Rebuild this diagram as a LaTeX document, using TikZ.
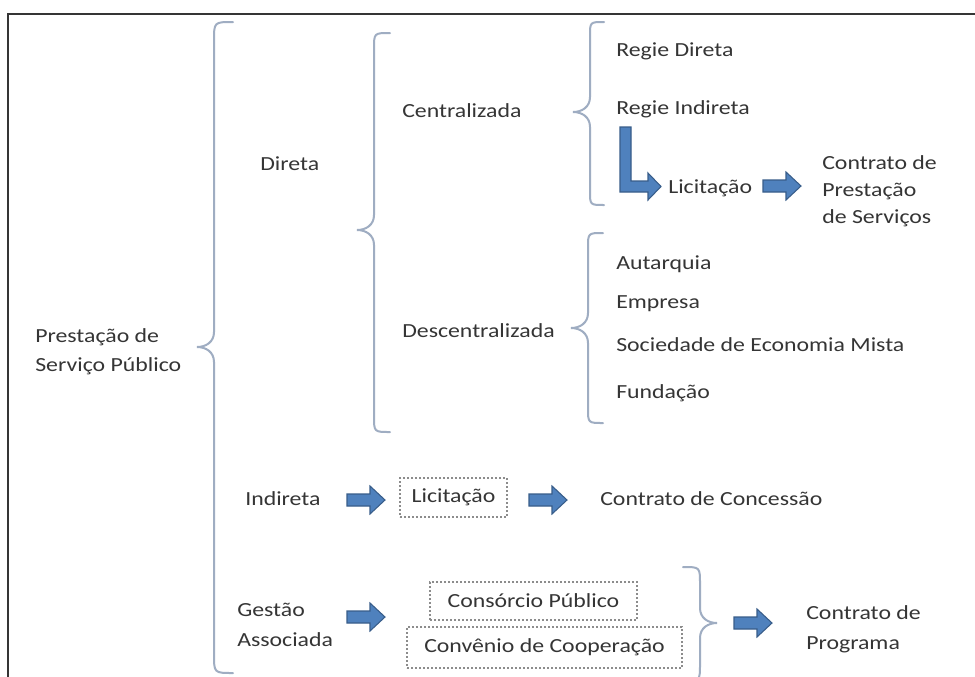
\documentclass[tikz,border=0pt]{standalone}
\usepackage{fontspec}
\setmainfont[FakeStretch=1.19]{Carlito}
\definecolor{txt}{HTML}{353535}
\definecolor{brc}{HTML}{9FADC2}
\definecolor{afill}{HTML}{4F81BD}
\definecolor{aline}{HTML}{385D8A}
\definecolor{dotc}{HTML}{8C8C8C}
\newcommand{\drawbraceL}[5]{% x, top, tip, bottom, curl
  \draw[bracestyle] ({#1+#5},#2) .. controls (#1,#2) .. (#1,{#2+#5}) -- (#1,{#3-15})
    .. controls (#1,{#3-5}) and ({#1-8},#3) .. ({#1-17},#3)
    .. controls ({#1-8},#3) and (#1,{#3+5}) .. (#1,{#3+15})
    -- (#1,{#4-#5}) .. controls (#1,#4) .. ({#1+#5},#4);}
\newcommand{\drawbraceR}[5]{% x, top, tip, bottom, curl
  \draw[bracestyle] ({#1-#5},#2) .. controls (#1,#2) .. (#1,{#2+#5}) -- (#1,{#3-15})
    .. controls (#1,{#3-5}) and ({#1+8},#3) .. ({#1+17},#3)
    .. controls ({#1+8},#3) and (#1,{#3+5}) .. (#1,{#3+15})
    -- (#1,{#4-#5}) .. controls (#1,#4) .. ({#1-#5},#4);}
\newcommand{\blockarrow}[2]{% x0, yc
  \filldraw[arrowstyle] (#1,{#2-6}) -- ({#1+23},{#2-6}) -- ({#1+23},{#2-14}) -- ({#1+38},#2)
    -- ({#1+23},{#2+14}) -- ({#1+23},{#2+6}) -- (#1,{#2+6}) -- cycle;}
\tikzset{
  lbl/.style={anchor=base west, inner sep=0pt, text=txt, font=\fontsize{15}{18}\selectfont},
  mlbl/.style={anchor=west, inner sep=0pt, text=txt, align=left},
  dotbox/.style={draw=dotc, line width=0.8pt, dash pattern=on 1.2pt off 1.8pt, inner sep=0pt, text=txt, font=\fontsize{15}{18}\selectfont},
  bracestyle/.style={draw=brc, line width=1.5pt, line cap=round},
  arrowstyle/.style={fill=afill, draw=aline, line width=0.8pt, line join=miter},
}
\begin{document}
\begin{tikzpicture}[x=0.75pt,y=-0.75pt]
\path[use as bounding box] (0,0) rectangle (975,676);
\clip (0,0) rectangle (975,676);
\fill[white] (0,0) rectangle (975,676);
% frame
\draw[line width=1.5pt, draw=txt] (7.5,690) -- (7.5,13.5) -- (980,13.5);

% braces
\drawbraceL{214}{22}{347}{673}{19}
\drawbraceL{374}{33}{230}{432}{16}
\drawbraceL{590}{22}{112}{205}{14}
\drawbraceL{588}{233}{328}{423}{15}
\drawbraceR{700}{567}{623}{681}{17}

% labels
\node[mlbl, font=\fontsize{15}{21.75}\selectfont] (psp) at (35,352) {Prestação de\\Serviço Público};
\node[lbl] (direta) at (260,170) {Direta};
\node[lbl] (central) at (402,117) {Centralizada};
\node[lbl] (descent) at (402,337) {Descentralizada};
\node[lbl] (rdir) at (616,56) {Regie Direta};
\node[lbl] (rind) at (616,114) {Regie Indireta};
\node[lbl] (lic1) at (668,193) {Licitação};
\node[mlbl, font=\fontsize{15}{20.25}\selectfont] (cps) at (822,191) {Contrato de\\Prestação\\de Serviços};
\node[lbl] (aut) at (616,269) {Autarquia};
\node[lbl] (emp) at (616,308) {Empresa};
\node[lbl] (sem) at (616,351) {Sociedade de Economia Mista};
\node[lbl] (fun) at (616,398) {Fundação};
\node[lbl] (indireta) at (245,505) {Indireta};
\node[dotbox, minimum width=107*0.75pt, minimum height=39*0.75pt] (lic2) at (453.5,497.5) {Licitação};
\node[lbl] (conc) at (600,505) {Contrato de Concessão};
\node[mlbl, font=\fontsize{15}{22.5}\selectfont] (gest) at (237,625) {Gestão\\Associada};
\node[dotbox, minimum width=207*0.75pt, minimum height=38*0.75pt] (consp) at (533.5,601) {Consórcio Público};
\node[dotbox, minimum width=275*0.75pt, minimum height=41*0.75pt] (convc) at (544.5,647.5) {Convênio de Cooperação};
\node[mlbl, font=\fontsize{15}{22.5}\selectfont] (cprog) at (806,629) {Contrato de\\Programa};

% L arrow from Regie Indireta to Licitação
\filldraw[arrowstyle] (620,127) -- (631,127) -- (631,181) -- (648,181) -- (648,173) -- (661,186.5)
  -- (648,200) -- (648,192) -- (620,192) -- cycle;

% block arrows
\blockarrow{763}{186}
\blockarrow{347}{500}
\blockarrow{529}{500}
\blockarrow{347}{617}
\blockarrow{734}{623}
\end{tikzpicture}
\end{document}
